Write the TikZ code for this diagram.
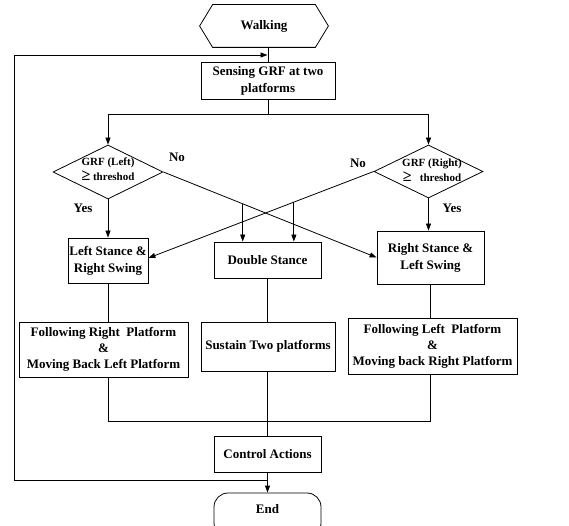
\documentclass[tikz,border=0pt]{standalone}
\usepackage{fontspec}
\setmainfont{Liberation Serif}
\usetikzlibrary{shapes.geometric,arrows.meta,calc}
\newcommand{\bigge}{{\fontsize{16}{15}\selectfont ≥}}
\begin{document}
\begin{tikzpicture}[x=1pt,y=-1pt, line width=0.8pt,
 box/.style={draw, rectangle, inner sep=0pt, font=\fontsize{13}{17}\selectfont\bfseries, align=center},
 dia/.style={draw, diamond, inner sep=0pt},
 lbl/.style={font=\fontsize{13}{15}\selectfont\bfseries, inner sep=0pt},
 dtxt/.style={font=\fontsize{11}{15}\selectfont\bfseries, align=center, inner sep=0pt},
 arr/.style={-{Triangle[length=7pt,width=5pt]}}
]
\useasboundingbox (0,0) rectangle (569,526);
% start
\node[lbl, minimum width=128pt, minimum height=42pt] (walk) at (264,26) {Walking};
\draw ([xshift=13pt]walk.north west) -- ([xshift=-13pt]walk.north east) -- (walk.east)
  -- ([xshift=-13pt]walk.south east) -- ([xshift=13pt]walk.south west) -- (walk.west) -- cycle;
\node[box, minimum width=134pt, minimum height=37pt] (sense) at (268,80.5) {Sensing GRF at two\\platforms};
% diamonds
\node[dia, minimum width=110pt, minimum height=54pt] (dl) at (108,172) {};
\node[dtxt] at (108,169.5) {GRF (Left)\\\bigge\ threshod};
\node[dia, minimum width=109pt, minimum height=53pt] (dr) at (428.5,171.5) {};
\node[dtxt] at (432,170) {GRF (Right)\\\bigge~~ threshod};
% stance boxes
\node[box, minimum width=80pt, minimum height=45pt] (ls) at (108,260.5) {Left Stance \&\\Right Swing};
\node[box, minimum width=107pt, minimum height=36pt] (ds) at (267.5,260) {Double Stance};
\node[box, minimum width=107pt, minimum height=53pt] (rs) at (430.5,257.5) {Right Stance \&\\Left Swing};
% actions
\node[box, minimum width=169pt, minimum height=55pt, font=\fontsize{13}{16}\selectfont\bfseries] (fr) at (103.5,349.5) {Following Right~ Platform\\\&\\Moving Back Left Platform};
\node[box, minimum width=134pt, minimum height=49pt] (su) at (268,346.5) {Sustain Two platforms};
\node[box, minimum width=169pt, minimum height=56pt, font=\fontsize{13}{16}\selectfont\bfseries] (fl) at (432.5,346) {Following Left~ Platform\\\&\\Moving back Right Platform};
\node[box, minimum width=107pt, minimum height=36pt] (ctrl) at (267.5,454) {Control Actions};
\node[box, rounded corners=14pt, minimum width=107pt, minimum height=44pt] (end) at (267.5,515) {};
\node[lbl] at (267.5,509) {End};
% labels
\node[lbl] at (177,157) {No};
\node[lbl] at (358,163) {No};
\node[lbl] at (83,208) {Yes};
\node[lbl] at (452,208) {Yes};
% coordinates
\coordinate (split) at (268,114);
\coordinate (merge) at (268,421);
\coordinate (lp) at (267.5,480);
\coordinate (lc) at (14,55);
\coordinate (lt) at (267.5,55);
% connectors
\draw (sense.north |- walk.south) -- (sense.north);
\draw (sense.south) -- (split);
\draw[arr] (split) -| (dl.north);
\draw[arr] (split) -| (dr.north);
\draw[arr] (dl.south) -- (dl.south |- ls.north);
\draw[arr] (dr.south) -- (dr.south |- rs.north);
\draw[arr] (dl.east) -- (rs.west);
\draw[arr] (dr.west) -- ([yshift=2.5pt]ls.east);
\coordinate (c1) at ($(dl.east)!0.372!(rs.west)$);
\coordinate (c2) at ($(dr.west)!0.354!([yshift=2.5pt]ls.east)$);
\draw[arr] (c1) -- (c1 |- ds.north);
\draw[arr] (c2) -- (c2 |- ds.north);
\draw (ls.south) -- (ls.south |- fr.north);
\draw (ds.south) -- (ds.south |- su.north);
\draw (rs.south) -- (rs.south |- fl.north);
\draw (ls.south |- fr.south) |- (merge);
\draw (rs.south |- fl.south) |- (merge);
\draw (su.south -| ctrl.north) -- (ctrl.north);
\draw[arr] (ctrl.south) -- (end.north);
\draw[arr] (lp) -| (lc) -- (lt);
\end{tikzpicture}
\end{document}
